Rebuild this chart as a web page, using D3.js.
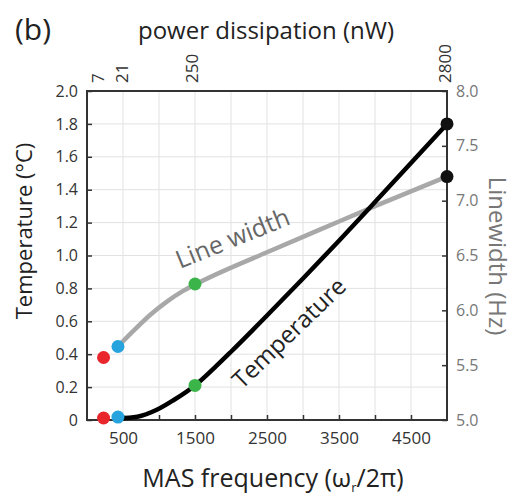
<!DOCTYPE html>
<html>
<head>
<meta charset="utf-8">
<script src="https://cdn.jsdelivr.net/npm/d3@7"></script>
<style>
  body { margin: 0; background: #fff; }
  text { font-family: "Open Sans", sans-serif; }
</style>
</head>
<body>
<svg id="chart"></svg>
<script>
// Measured points (MAS frequency), colored dots
const dotFreq = [230, 430, 1500, 5000];
const dotTemp = [0.012, 0.018, 0.21, 1.80];
const dotWidth = [5.57, 5.67, 6.24, 7.22];
const dotColors = ['#e8262c', '#27a4dd', '#3bb54a', '#111111'];

// Temperature curve (left axis)
const tempFreq = [430, 700, 970, 1200, 1500, 1800, 2000, 2500, 3000, 3500, 4000, 4500, 5000];
const tempVal = [0.01, 0.02, 0.062, 0.12, 0.21, 0.33, 0.415, 0.635, 0.86, 1.09, 1.325, 1.562, 1.80];

// Linewidth curve (right axis)
const lwFreq = [430, 640, 880, 1110, 1330, 1500, 2500, 3250, 4000, 5000];
const lwVal = [5.67, 5.81, 5.96, 6.08, 6.175, 6.235, 6.53, 6.74, 6.95, 7.22];

// Ticks
const xTicks = [500, 1000, 1500, 2000, 2500, 3000, 3500, 4000, 4500];
const xLabels = [500, 1500, 2500, 3500, 4500];
const yTicks = [0, 0.2, 0.4, 0.6, 0.8, 1.0, 1.2, 1.4, 1.6, 1.8, 2.0];
const rTicks = [5.0, 5.5, 6.0, 6.5, 7.0, 7.5, 8.0];
const topFreq = [150, 480, 1450, 4970];
const topLabels = ['7', '21', '250', '2800'];

const svgWidth = 515;
const svgHeight = 501;
const plot = { left: 87, right: 447, top: 91, bottom: 420 };

const svg = d3.select('#chart')
    .attr('width', svgWidth)
    .attr('height', svgHeight);

// Scales
const x = d3.scaleLinear().domain([0, 5000]).range([plot.left, plot.right]);
const y = d3.scaleLinear().domain([0, 2]).range([plot.bottom, plot.top]);
const yR = d3.scaleLinear().domain([5, 8]).range([plot.bottom, plot.top]);

// Grid
svg.append('g')
    .selectAll('line.vgrid')
    .data(xTicks)
    .enter()
    .append('line')
    .attr('x1', d => x(d)).attr('x2', d => x(d))
    .attr('y1', plot.top).attr('y2', plot.bottom)
    .attr('stroke', '#e2e2e2').attr('stroke-width', 1);

svg.append('g')
    .selectAll('line.hgrid')
    .data(yTicks.slice(1, -1))
    .enter()
    .append('line')
    .attr('x1', plot.left).attr('x2', plot.right)
    .attr('y1', d => y(d)).attr('y2', d => y(d))
    .attr('stroke', '#e2e2e2').attr('stroke-width', 1);

// Axes
function styleAxis(g, color, size) {
    g.select('.domain').remove();
    g.selectAll('.tick line').attr('stroke', '#333').attr('stroke-width', 1.5);
    g.selectAll('text')
        .attr('fill', color)
        .style('font-size', size + 'px')
        .style('font-family', '"Open Sans", sans-serif');
}

svg.append('g')
    .attr('transform', `translate(${plot.left},0)`)
    .call(d3.axisLeft(y).tickValues(yTicks).tickSize(-5).tickPadding(9)
        .tickFormat(d => d === 0 ? '0' : d.toFixed(1)))
    .call(g => styleAxis(g, '#333', 16));

svg.append('g')
    .attr('transform', `translate(${plot.right},0)`)
    .call(d3.axisRight(yR).tickValues(rTicks).tickSize(-5).tickPadding(9)
        .tickFormat(d => d.toFixed(1)))
    .call(g => styleAxis(g, '#777', 16));

svg.append('g')
    .attr('transform', `translate(0,${plot.bottom})`)
    .call(d3.axisBottom(x).tickValues(xTicks).tickSize(-5).tickPadding(10)
        .tickFormat(d => xLabels.includes(d) ? d : ''))
    .call(g => styleAxis(g, '#333', 17))
    .call(g => g.selectAll('text').attr('y', 12).attr('dy', '0.71em'));

// Top axis: power dissipation
svg.append('g')
    .attr('transform', `translate(0,${plot.top})`)
    .call(d3.axisTop(x).tickValues(topFreq).tickSize(0)
        .tickFormat((d, i) => topLabels[i]))
    .call(g => styleAxis(g, '#333', 17))
    .call(g => g.selectAll('text')
        .attr('text-anchor', 'start')
        .attr('x', 0).attr('y', 0).attr('dy', '0.35em')
        .attr('transform', 'translate(0,-8) rotate(-90)'));

// Frame
svg.append('rect')
    .attr('x', plot.left).attr('y', plot.top)
    .attr('width', plot.right - plot.left)
    .attr('height', plot.bottom - plot.top)
    .attr('fill', 'none')
    .attr('stroke', '#333')
    .attr('stroke-width', 2);

// Curves
const lwLine = d3.line()
    .x((d, i) => x(lwFreq[i]))
    .y(d => yR(d))
    .curve(d3.curveMonotoneX);

svg.append('path')
    .datum(lwVal)
    .attr('d', lwLine)
    .attr('fill', 'none')
    .attr('stroke', '#a8a8a8')
    .attr('stroke-width', 4.5);

const tempLine = d3.line()
    .x((d, i) => x(tempFreq[i]))
    .y(d => y(d))
    .curve(d3.curveMonotoneX);

svg.append('path')
    .datum(tempVal)
    .attr('d', tempLine)
    .attr('fill', 'none')
    .attr('stroke', '#000')
    .attr('stroke-width', 4.5);

// Dots
svg.selectAll('.dot-lw')
    .data(dotFreq)
    .enter()
    .append('circle')
    .attr('class', 'dot-lw')
    .attr('cx', d => x(d))
    .attr('cy', (d, i) => yR(dotWidth[i]))
    .attr('r', 6.5)
    .attr('fill', (d, i) => dotColors[i]);

svg.selectAll('.dot-temp')
    .data(dotFreq)
    .enter()
    .append('circle')
    .attr('class', 'dot-temp')
    .attr('cx', d => x(d))
    .attr('cy', (d, i) => y(dotTemp[i]))
    .attr('r', 6.5)
    .attr('fill', (d, i) => dotColors[i]);

// Curve labels
svg.append('text')
    .attr('transform', 'translate(180,269) rotate(-22)')
    .attr('fill', '#666')
    .style('font-size', '25px')
    .text('Line width');

svg.append('text')
    .attr('transform', 'translate(289,333) rotate(-44)')
    .attr('text-anchor', 'middle')
    .attr('dy', '0.35em')
    .attr('fill', '#222')
    .style('font-size', '24px')
    .text('Temperature');

// Titles
svg.append('text')
    .attr('x', 15).attr('y', 40)
    .attr('fill', '#222')
    .style('font-size', '30px')
    .text('(b)');

svg.append('text')
    .attr('x', 266).attr('y', 39)
    .attr('text-anchor', 'middle')
    .attr('fill', '#222')
    .style('font-size', '24px')
    .text('power dissipation (nW)');

svg.append('text')
    .attr('transform', 'translate(32,231) rotate(-90)')
    .attr('text-anchor', 'middle')
    .attr('fill', '#222')
    .style('font-size', '22px')
    .text('Temperature (°C)');

svg.append('text')
    .attr('transform', 'translate(489,256) rotate(90)')
    .attr('text-anchor', 'middle')
    .attr('fill', '#777')
    .style('font-size', '24px')
    .text('Linewidth (Hz)');

const xTitle = svg.append('text')
    .attr('x', 273).attr('y', 487)
    .attr('text-anchor', 'middle')
    .attr('fill', '#222')
    .style('font-size', '25px');
xTitle.append('tspan').text('MAS frequency (ω');
xTitle.append('tspan').attr('dy', 5).style('font-size', '13px').text('r');
xTitle.append('tspan').attr('dy', -5).text('/2π)');
</script>
</body>
</html>
